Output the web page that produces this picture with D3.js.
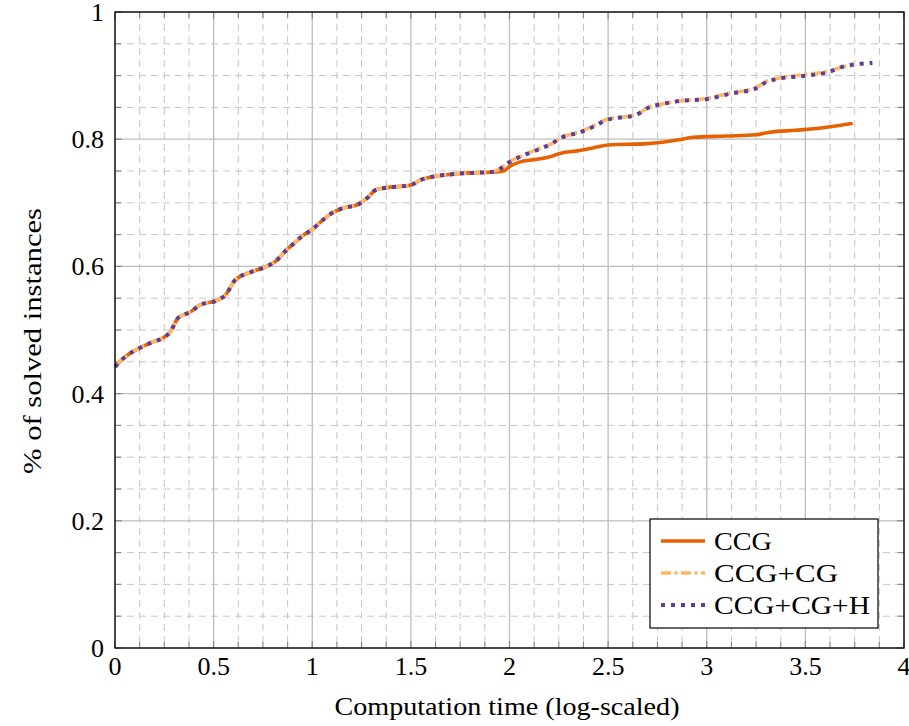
<!DOCTYPE html>
<html><head><meta charset="utf-8">
<script src="https://cdn.jsdelivr.net/npm/d3@7"></script>
<style>body{margin:0;background:#fff}svg{display:block}text{font-family:"Liberation Serif","Times New Roman",serif;fill:#000}</style>
</head><body><div id="chart"></div>
<script>
// ---- data ----
const xTicks = [0, 0.5, 1, 1.5, 2, 2.5, 3, 3.5, 4];
const yTicks = [0, 0.2, 0.4, 0.6, 0.8, 1];
const seriesNames = ["CCG", "CCG+CG", "CCG+CG+H"];
const sharedX = [0, 0.045, 0.09, 0.127, 0.19, 0.24, 0.28, 0.32, 0.38, 0.43, 0.52, 0.56, 0.61, 0.68, 0.76, 0.81, 0.87, 0.91, 0.95, 1.0, 1.05, 1.10, 1.16, 1.23, 1.28, 1.32, 1.36, 1.50, 1.55, 1.61, 1.71, 1.80, 1.90];
const sharedY = [0.442, 0.456, 0.466, 0.472, 0.481, 0.487, 0.497, 0.519, 0.528, 0.539, 0.547, 0.555, 0.579, 0.590, 0.599, 0.607, 0.626, 0.637, 0.648, 0.658, 0.672, 0.684, 0.692, 0.697, 0.708, 0.720, 0.723, 0.728, 0.736, 0.741, 0.745, 0.747, 0.748];
const ccgX = [1.97, 2.00, 2.05, 2.13, 2.20, 2.26, 2.35, 2.45, 2.50, 2.70, 2.86, 2.93, 3.10, 3.25, 3.32, 3.45, 3.59, 3.68, 3.74];
const ccgY = [0.750, 0.757, 0.764, 0.768, 0.772, 0.778, 0.782, 0.788, 0.791, 0.793, 0.799, 0.803, 0.805, 0.807, 0.811, 0.814, 0.818, 0.822, 0.825];
const cgX = [1.96, 2.00, 2.05, 2.14, 2.22, 2.26, 2.36, 2.44, 2.49, 2.64, 2.70, 2.80, 2.86, 3.00, 3.11, 3.25, 3.29, 3.38, 3.48, 3.62, 3.69, 3.74];
const cgY = [0.755, 0.765, 0.772, 0.784, 0.794, 0.802, 0.812, 0.823, 0.831, 0.838, 0.849, 0.857, 0.860, 0.864, 0.872, 0.881, 0.889, 0.897, 0.901, 0.907, 0.914, 0.916];
const cghX = [1.96, 2.00, 2.05, 2.14, 2.22, 2.26, 2.36, 2.44, 2.49, 2.64, 2.70, 2.80, 2.86, 3.00, 3.11, 3.25, 3.29, 3.38, 3.48, 3.62, 3.69, 3.84];
const cghY = [0.755, 0.764, 0.772, 0.783, 0.794, 0.802, 0.811, 0.822, 0.830, 0.838, 0.849, 0.857, 0.860, 0.863, 0.871, 0.880, 0.888, 0.896, 0.899, 0.906, 0.914, 0.920];

// ---- layout ----
const W = 909, H = 726;
const L = 115, R = 904, T = 12, B = 648;
const svg = d3.select("#chart").append("svg").attr("width", W).attr("height", H);
const x = d3.scaleLinear().domain([0, 4]).range([L, R]);
const y = d3.scaleLinear().domain([0, 1]).range([B, T]);

const xMinor = d3.range(0, 4.0001, 0.125).filter(v => Math.abs(v * 2 - Math.round(v * 2)) > 1e-6);
const yMinor = d3.range(0, 1.0001, 0.05).filter(v => Math.abs(v * 5 - Math.round(v * 5)) > 1e-6);

const g = svg.append("g");
// minor grid
g.selectAll(".mgx").data(xMinor).join("line")
  .attr("x1", d => x(d)).attr("x2", d => x(d)).attr("y1", T).attr("y2", B)
  .attr("stroke", "#c6c6c6").attr("stroke-width", 1).attr("stroke-dasharray", "7,5");
g.selectAll(".mgy").data(yMinor).join("line")
  .attr("y1", d => y(d)).attr("y2", d => y(d)).attr("x1", L).attr("x2", R)
  .attr("stroke", "#c6c6c6").attr("stroke-width", 1).attr("stroke-dasharray", "7,5");
// major grid
g.selectAll(".Mgx").data(xTicks).join("line")
  .attr("x1", d => x(d)).attr("x2", d => x(d)).attr("y1", T).attr("y2", B)
  .attr("stroke", "#bdbdbd").attr("stroke-width", 1.3);
g.selectAll(".Mgy").data(yTicks).join("line")
  .attr("y1", d => y(d)).attr("y2", d => y(d)).attr("x1", L).attr("x2", R)
  .attr("stroke", "#bdbdbd").attr("stroke-width", 1.3);

// ticks (inward, all sides)
const tickCol = "#8a8a8a";
function vt(vals, len) {
  g.selectAll(null).data(vals).join("line").attr("x1", d => x(d)).attr("x2", d => x(d)).attr("y1", B).attr("y2", B - len).attr("stroke", tickCol).attr("stroke-width", 1.2);
  g.selectAll(null).data(vals).join("line").attr("x1", d => x(d)).attr("x2", d => x(d)).attr("y1", T).attr("y2", T + len).attr("stroke", tickCol).attr("stroke-width", 1.2);
}
function ht(vals, len) {
  g.selectAll(null).data(vals).join("line").attr("y1", d => y(d)).attr("y2", d => y(d)).attr("x1", L).attr("x2", L + len).attr("stroke", tickCol).attr("stroke-width", 1.2);
  g.selectAll(null).data(vals).join("line").attr("y1", d => y(d)).attr("y2", d => y(d)).attr("x1", R).attr("x2", R - len).attr("stroke", tickCol).attr("stroke-width", 1.2);
}
vt(xTicks, 7); vt(xMinor, 6); ht(yTicks, 7); ht(yMinor, 6);

// curves
const line = d3.line().x(d => x(d[0])).y(d => y(d[1])).curve(d3.curveMonotoneX);
const zip = (a, b) => a.map((v, i) => [v, b[i]]);
const ccgData = zip(sharedX, sharedY).concat(zip(ccgX, ccgY));
const cgData = zip(sharedX, sharedY).concat(zip(cgX, cgY));
const cghData = zip(sharedX, sharedY).concat(zip(cghX, cghY));
const styles = [
  { color: "#e66101", dash: null, w: 3.6 },
  { color: "#fdb863", dash: "10,3.5,3,3.5", w: 3.6 },
  { color: "#5e3c99", dash: "4,6", w: 4 }
];
[ccgData, cgData, cghData].forEach((d, i) => {
  svg.append("path").datum(d).attr("d", line).attr("fill", "none")
    .attr("stroke", styles[i].color).attr("stroke-width", styles[i].w)
    .attr("stroke-dasharray", styles[i].dash);
});

// frame
svg.append("rect").attr("x", L).attr("y", T).attr("width", R - L).attr("height", B - T)
  .attr("fill", "none").attr("stroke", "#000").attr("stroke-width", 1.3);

// tick labels
const fmt = d => d3.format("~g")(d);
svg.selectAll(".xl").data(xTicks).join("text").attr("x", d => x(d)).attr("y", 675)
  .attr("text-anchor", "middle").attr("font-size", 26).text(fmt);
svg.selectAll(".yl").data(yTicks).join("text").attr("x", 104).attr("y", d => y(d) + 9)
  .attr("text-anchor", "end").attr("font-size", 26).text(fmt);

// axis titles
svg.append("text").attr("x", 507).attr("y", 715).attr("text-anchor", "middle")
  .attr("font-size", 26).attr("textLength", 345).attr("lengthAdjust", "spacingAndGlyphs")
  .text("Computation time (log-scaled)");
svg.append("text").attr("transform", "translate(41,341) rotate(-90)")
  .attr("text-anchor", "middle").attr("font-size", 26).attr("textLength", 266)
  .attr("lengthAdjust", "spacingAndGlyphs").text("% of solved instances");

// legend
const lg = svg.append("g");
lg.append("rect").attr("x", 650).attr("y", 519).attr("width", 228).attr("height", 109)
  .attr("fill", "#fff").attr("stroke", "#000").attr("stroke-width", 1.2);
const legW = [58, 124, 156];
seriesNames.forEach((n, i) => {
  const cy = 541 + i * 32;
  lg.append("line").attr("x1", 661).attr("x2", 705).attr("y1", cy).attr("y2", cy)
    .attr("stroke", styles[i].color).attr("stroke-width", styles[i].w).attr("stroke-dasharray", styles[i].dash);
  lg.append("text").attr("x", 714).attr("y", cy + 9).attr("font-size", 26)
    .attr("textLength", legW[i]).attr("lengthAdjust", "spacingAndGlyphs").text(n);
});
</script></body></html>
